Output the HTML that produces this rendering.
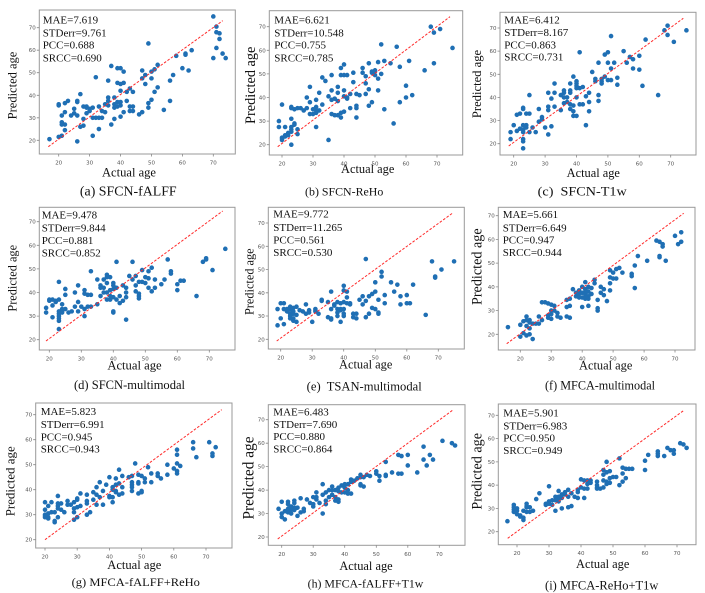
<!DOCTYPE html>
<html><head><meta charset="utf-8">
<style>
html,body{margin:0;padding:0;background:#fff;}
svg{display:block;}
.fr{fill:#fff;stroke:#999;stroke-width:1;}
.tk{stroke:#888;stroke-width:0.8;fill:none;}
.d{fill:none;stroke:#1f6fb4;stroke-width:4.6;stroke-linecap:round;}
.rl{stroke:#ff2a2a;stroke-width:1;stroke-dasharray:2.6 1.6;fill:none;}
.tl{font-family:"DejaVu Sans","Liberation Sans",sans-serif;font-size:5.5px;fill:#555;}
.st{font-family:"Liberation Serif",serif;font-size:11px;fill:#111;}
.al{font-family:"Liberation Serif",serif;font-size:12.5px;fill:#111;}
.cp{font-family:"Liberation Serif",serif;fill:#111;}
</style></head>
<body>
<svg width="705" height="593" viewBox="0 0 705 593" xmlns="http://www.w3.org/2000/svg">
<rect width="705" height="593" fill="#fff"/>

<!-- ===== (a) ===== -->
<rect class="fr" x="39.3" y="10" width="196" height="144"/>
<path class="tk" d="M58.7 154v2.5M89.6 154v2.5M120.5 154v2.5M151.5 154v2.5M182.4 154v2.5M213.3 154v2.5M39.3 140.3h-2.5M39.3 117.8h-2.5M39.3 95.3h-2.5M39.3 72.7h-2.5M39.3 50.2h-2.5M39.3 27.7h-2.5"/>
<text class="tl" y="164.7" text-anchor="middle"><tspan x="58.7">20</tspan><tspan x="89.6">30</tspan><tspan x="120.5">40</tspan><tspan x="151.5">50</tspan><tspan x="182.4">60</tspan><tspan x="213.3">70</tspan></text>
<text class="tl" text-anchor="end"><tspan x="35.8" y="142.3">20</tspan><tspan x="35.8" y="119.8">30</tspan><tspan x="35.8" y="97.3">40</tspan><tspan x="35.8" y="74.7">50</tspan><tspan x="35.8" y="52.2">60</tspan><tspan x="35.8" y="29.7">70</tspan></text>
<g transform="matrix(3.092 0 0 -2.252 -3.14 185.34)"><path class="d" vector-effect="non-scaling-stroke" d="M17 20.5h.01M20 36h.01M20 35.5h.01M20 21.5h.01M21 22h.01M21 31h.01M21 28h.01M21 27h.01M22 27h.01M22 24.5h.01M22 32.5h.01M22 36.5h.01M23 37.5h.01M24 31h.01M25 32h.01M25 34h.01M26 37.5h.01M26 37h.01M26 31h.01M26 19.5h.01M27 40.5h.01M27 26h.01M28 26.5h.01M28 29.5h.01M28 35h.01M29 35h.01M29 34.5h.01M29 32h.01M30 33h.01M30 34h.01M31 30h.01M31 34.5h.01M31 22h.01M32 48h.01M32 30h.01M33 30h.01M33 25h.01M33 35h.01M34 30h.01M34 33h.01M35 36h.01M35 32.5h.01M36 46.5h.01M36 39h.01M36 37.5h.01M36 35.5h.01M37 53h.01M37 27h.01M38 34.5h.01M38 39h.01M38 29.5h.01M38 36h.01M39 52h.01M39 45.5h.01M39 35h.01M39 37h.01M40 52h.01M40 45h.01M40 42h.01M40 30.5h.01M40 37h.01M40 35.5h.01M41 45.5h.01M41 50.5h.01M41 32.5h.01M42 41.5h.01M42 37.5h.01M43 43h.01M43 35h.01M43 33h.01M44 41.5h.01M44 33h.01M44 35h.01M46 31.5h.01M47 51h.01M47 47.5h.01M47 32.5h.01M48 49h.01M48 45h.01M49 63h.01M49 36.5h.01M49 34.5h.01M50 47.5h.01M50 50.5h.01M50 38h.01M51 51.5h.01M51 41.5h.01M52 53.5h.01M52 43.5h.01M54 33.5h.01M56 46.5h.01M56 37.5h.01M57 49h.01M58 57.5h.01M60 52h.01M61 58.5h.01M61 58h.01M62 51h.01M63 60h.01M70 75h.01M70 56.5h.01M71 70.5h.01M71 68h.01M71 61h.01M72 67.5h.01M72 65h.01M73 58.5h.01M74 56.5h.01"/></g>
<line class="rl" x1="48.3" y1="146.7" x2="222.7" y2="20.7"/>
<text class="st" x="42.7"><tspan x="42.7" y="23.7">MAE=7.619</tspan><tspan x="42.7" y="36.4">STDerr=9.761</tspan><tspan x="42.7" y="48.7">PCC=0.688</tspan><tspan x="42.7" y="61.4">SRCC=0.690</tspan></text>
<text class="al" x="129" y="176.5" text-anchor="middle" textLength="54" lengthAdjust="spacingAndGlyphs">Actual age</text>
<text class="al" transform="translate(12,85.5) rotate(-90)" y="4.3" text-anchor="middle" textLength="67.7" lengthAdjust="spacingAndGlyphs" style="font-size:12.6px">Predicted age</text>
<text class="cp" x="128.3" y="195.7" text-anchor="middle" style="font-size:13.5px" textLength="96.7" lengthAdjust="spacingAndGlyphs">(a) SFCN-fALFF</text>

<!-- ===== (b) ===== -->
<rect class="fr" x="269.3" y="10.7" width="193.4" height="144.3"/>
<path class="tk" d="M282 155v2.5M313 155v2.5M344 155v2.5M375 155v2.5M406 155v2.5M437 155v2.5M269.3 144.7h-2.5M269.3 121.1h-2.5M269.3 97.5h-2.5M269.3 73.9h-2.5M269.3 50.3h-2.5M269.3 26.7h-2.5"/>
<text class="tl" y="165.5" text-anchor="middle"><tspan x="282">20</tspan><tspan x="313">30</tspan><tspan x="344">40</tspan><tspan x="375">50</tspan><tspan x="406">60</tspan><tspan x="437">70</tspan></text>
<text class="tl" text-anchor="end"><tspan x="265.8" y="146.7">20</tspan><tspan x="265.8" y="123.1">30</tspan><tspan x="265.8" y="99.5">40</tspan><tspan x="265.8" y="75.9">50</tspan><tspan x="265.8" y="52.3">60</tspan><tspan x="265.8" y="28.7">70</tspan></text>
<g transform="matrix(3.1 0 0 -2.36 220 191.9)"><path class="d" vector-effect="non-scaling-stroke" d="M19 30h.01M19 27.5h.01M20 37h.01M20 22.5h.01M20 22h.01M20 23h.01M21 27.5h.01M21 24h.01M21 23.5h.01M22 25h.01M22 24h.01M23 36h.01M23 35.5h.01M23 31h.01M23 27.5h.01M23 26.5h.01M23 25.5h.01M23 20h.01M24 35h.01M24 29h.01M24 28.5h.01M25 26.5h.01M25 24.5h.01M25 35.5h.01M26 35.5h.01M27 34.5h.01M28 40h.01M28 35.5h.01M29 44.5h.01M29 38h.01M29 33h.01M30 35h.01M30 33h.01M31 39h.01M31 36h.01M31 34.5h.01M31 33.5h.01M31 27.5h.01M32 42h.01M32 34.5h.01M33 48.5h.01M33 37h.01M34 47h.01M35 22h.01M35 40.5h.01M36 49.5h.01M36 43h.01M36 39h.01M36 33h.01M37 39.5h.01M37 32.5h.01M38 44.5h.01M38 42h.01M38 38.5h.01M38 32.5h.01M39 52.5h.01M39 49.5h.01M39 33.5h.01M39 31.5h.01M40 54h.01M40 49.5h.01M40 43h.01M40 40.5h.01M40 34h.01M41 49.5h.01M41 40h.01M41 39.5h.01M42 41.5h.01M42 35.5h.01M43 50.5h.01M43 46.5h.01M44 41.5h.01M44 36.5h.01M44 35.5h.01M44 31.5h.01M45 41h.01M46 52.5h.01M46 50.5h.01M47 49h.01M47 41.5h.01M47 46h.01M48 54.5h.01M48 43.5h.01M48 36.5h.01M49 51h.01M49 38h.01M49 50.5h.01M50 51.5h.01M50 49.5h.01M50 51h.01M51 55h.01M51 48h.01M51 43h.01M52 62.5h.01M52 50h.01M53 55.5h.01M53 35h.01M55 54.5h.01M56 29h.01M57 61.5h.01M58 53h.01M58 38h.01M60 45h.01M60 40h.01M61 55.5h.01M62 41h.01M66 51.5h.01M68 70h.01M69 67.5h.01M69 54.5h.01M71 69h.01M75 61h.01"/></g>
<line class="rl" x1="277.7" y1="146.7" x2="450" y2="16.7"/>
<text class="st"><tspan x="274.3" y="23.7">MAE=6.621</tspan><tspan x="274.3" y="36.4">STDerr=10.548</tspan><tspan x="274.3" y="48.7">PCC=0.755</tspan><tspan x="274.3" y="61.4">SRCC=0.785</tspan></text>
<text class="al" x="367.7" y="172.8" text-anchor="middle" textLength="53.3" lengthAdjust="spacingAndGlyphs">Actual age</text>
<text class="al" transform="translate(250,85.3) rotate(-90)" y="4.8" text-anchor="middle" textLength="77.3" lengthAdjust="spacingAndGlyphs" style="font-size:14.4px">Predicted age</text>
<text class="cp" x="344.2" y="195.5" text-anchor="middle" style="font-size:12px" textLength="78.3" lengthAdjust="spacingAndGlyphs">(b) SFCN-ReHo</text>

<!-- ===== (c) ===== -->
<rect class="fr" x="500" y="12.3" width="196" height="142.7"/>
<path class="tk" d="M513.7 155v2.5M545.1 155v2.5M576.5 155v2.5M607.9 155v2.5M639.3 155v2.5M670.7 155v2.5M500 143.7h-2.5M500 120.6h-2.5M500 97.4h-2.5M500 74.3h-2.5M500 51.1h-2.5M500 28h-2.5"/>
<text class="tl" y="165.5" text-anchor="middle"><tspan x="513.7">20</tspan><tspan x="545.1">30</tspan><tspan x="576.5">40</tspan><tspan x="607.9">50</tspan><tspan x="639.3">60</tspan><tspan x="670.7">70</tspan></text>
<text class="tl" text-anchor="end"><tspan x="496.5" y="145.7">20</tspan><tspan x="496.5" y="122.6">30</tspan><tspan x="496.5" y="99.4">40</tspan><tspan x="496.5" y="76.3">50</tspan><tspan x="496.5" y="53.1">60</tspan><tspan x="496.5" y="30">70</tspan></text>
<g transform="matrix(3.14 0 0 -2.314 450.9 189.98)"><path class="d" vector-effect="non-scaling-stroke" d="M19 25h.01M19 22h.01M20 28h.01M21 32.5h.01M21 25.5h.01M22 33h.01M22 26.5h.01M23 35.5h.01M23 35h.01M23 28h.01M23 26h.01M23 25h.01M23 22h.01M23 21h.01M23 18h.01M24 33h.01M24 28h.01M24 27h.01M25 41h.01M25 33h.01M25 25h.01M26 27h.01M27 25h.01M28 35h.01M28 29.5h.01M29 31.5h.01M29 30.5h.01M30 27h.01M31 42h.01M31 36h.01M31 34.5h.01M31 24h.01M32 39.5h.01M32 27.5h.01M33 46h.01M33 42h.01M33 36h.01M35 41h.01M35 34.5h.01M36 43h.01M36 42h.01M36 40h.01M36 37.5h.01M37 40h.01M37 38h.01M38 46h.01M38 43h.01M38 42h.01M38 37h.01M38 35h.01M39 49h.01M39 36.5h.01M39 34h.01M39 32h.01M40 47h.01M40 46h.01M40 45h.01M40 44h.01M40 40h.01M40 32h.01M41 59.5h.01M41 44h.01M41 37h.01M42 44.5h.01M42 37h.01M43 40.5h.01M43 28h.01M44 42h.01M44 38h.01M44 34h.01M45 51h.01M46 48h.01M46 47h.01M47 55h.01M47 41h.01M47 38.5h.01M48 48h.01M48 47h.01M48 46h.01M49 49h.01M49 58.5h.01M50 59.5h.01M50 55h.01M50 47.5h.01M51 66.5h.01M51 52.5h.01M51 47.5h.01M52 55h.01M53 48.5h.01M53 45.5h.01M55 60h.01M56 55h.01M57 57.5h.01M58 56.5h.01M58 52.5h.01M60 58h.01M60 52h.01M61 45h.01M62 65h.01M66 41h.01M68 69h.01M69 71h.01M69 67h.01M71 64h.01M75 69h.01"/></g>
<line class="rl" x1="508.7" y1="146" x2="683.3" y2="18.3"/>
<text class="st"><tspan x="504.3" y="23.7">MAE=6.412</tspan><tspan x="504.3" y="36">STDerr=8.167</tspan><tspan x="504.3" y="48.4">PCC=0.863</tspan><tspan x="504.3" y="60.7">SRCC=0.731</tspan></text>
<text class="al" x="593.3" y="176.8" text-anchor="middle" textLength="53.3" lengthAdjust="spacingAndGlyphs">Actual age</text>
<text class="al" transform="translate(476.7,84) rotate(-90)" y="4.3" text-anchor="middle" textLength="68.3" lengthAdjust="spacingAndGlyphs" style="font-size:12.8px">Predicted age</text>
<text class="cp" x="582.2" y="195.5" text-anchor="middle" style="font-size:12.5px" textLength="89" lengthAdjust="spacingAndGlyphs">(c)&#160; SFCN-T1w</text>

<!-- ===== (d) ===== -->
<rect class="fr" x="39.3" y="207.3" width="195.7" height="142.7"/>
<path class="tk" d="M49.3 350v2.5M81.3 350v2.5M113.3 350v2.5M145.3 350v2.5M177.3 350v2.5M209.3 350v2.5M39.3 339.7h-2.5M39.3 316.1h-2.5M39.3 292.5h-2.5M39.3 268.9h-2.5M39.3 245.3h-2.5M39.3 221.7h-2.5"/>
<text class="tl" y="360.5" text-anchor="middle"><tspan x="49.3">20</tspan><tspan x="81.3">30</tspan><tspan x="113.3">40</tspan><tspan x="145.3">50</tspan><tspan x="177.3">60</tspan><tspan x="209.3">70</tspan></text>
<text class="tl" text-anchor="end"><tspan x="35.8" y="341.7">20</tspan><tspan x="35.8" y="318.1">30</tspan><tspan x="35.8" y="294.5">40</tspan><tspan x="35.8" y="270.9">50</tspan><tspan x="35.8" y="247.3">60</tspan><tspan x="35.8" y="223.7">70</tspan></text>
<g transform="matrix(3.2 0 0 -2.36 -14.7 386.9)"><path class="d" vector-effect="non-scaling-stroke" d="M19 33.5h.01M19 31.5h.01M20 37h.01M20 36.5h.01M21 34.5h.01M21 29.5h.01M21 37h.01M22 36.5h.01M22 36h.01M23 44.5h.01M23 37h.01M23 32h.01M23 31h.01M23 30h.01M23 29h.01M23 28h.01M23 24.5h.01M24 35h.01M24 33h.01M24 32h.01M24 31.5h.01M25 41.5h.01M25 39h.01M25 33h.01M26 31.5h.01M27 32h.01M28 40h.01M28 34h.01M29 43h.01M29 36h.01M29 32h.01M30 34h.01M31 41h.01M31 39.5h.01M31 33h.01M31 30h.01M32 39h.01M32 34h.01M33 49h.01M33 39h.01M33 34h.01M35 45.5h.01M35 35h.01M36 43h.01M36 42h.01M36 38.5h.01M37 45.5h.01M37 42h.01M37 40h.01M38 47.5h.01M38 46.5h.01M38 44h.01M38 40h.01M38 37h.01M39 46.5h.01M39 41h.01M39 38.5h.01M39 37h.01M40 44h.01M40 43h.01M40 41.5h.01M40 38h.01M40 32h.01M40 31.5h.01M41 53h.01M41 42h.01M41 37h.01M42 38.5h.01M42 35.5h.01M43 43h.01M43 36.5h.01M44 42h.01M44 40h.01M44 38h.01M44 28.5h.01M45 47h.01M46 53h.01M46 45.5h.01M47 47h.01M47 43h.01M47 40.5h.01M48 39.5h.01M48 38.5h.01M48 37.5h.01M48 44.5h.01M49 49.5h.01M49 44.5h.01M50 46.5h.01M50 44h.01M51 49h.01M51 46h.01M51 42h.01M52 50.5h.01M52 40.5h.01M53 45.5h.01M53 42h.01M55 43.5h.01M56 45.5h.01M57 54h.01M58 49h.01M58 48h.01M60 43.5h.01M60 41h.01M61 45h.01M62 45h.01M66 38.5h.01M68 53h.01M69 54.5h.01M69 54h.01M71 49.5h.01M75 58.5h.01"/></g>
<line class="rl" x1="46" y1="341" x2="222.7" y2="211"/>
<text class="st"><tspan x="41.7" y="218.7">MAE=9.478</tspan><tspan x="41.7" y="231.4">STDerr=9.844</tspan><tspan x="41.7" y="244">PCC=0.881</tspan><tspan x="41.7" y="256.4">SRCC=0.852</tspan></text>
<text class="al" x="134.5" y="369.5" text-anchor="middle" textLength="54.3" lengthAdjust="spacingAndGlyphs">Actual age</text>
<text class="al" transform="translate(12.3,278.3) rotate(-90)" y="4.3" text-anchor="middle" textLength="66.7" lengthAdjust="spacingAndGlyphs" style="font-size:12.5px">Predicted age</text>
<text class="cp" x="129.5" y="389" text-anchor="middle" style="font-size:12.3px" textLength="111" lengthAdjust="spacingAndGlyphs">(d) SFCN-multimodal</text>

<!-- ===== (e) ===== -->
<rect class="fr" x="268.3" y="207.3" width="196" height="141.7"/>
<path class="tk" d="M280.7 349v2.5M312.2 349v2.5M343.7 349v2.5M375.3 349v2.5M406.8 349v2.5M438.3 349v2.5M268.3 339.3h-2.5M268.3 316h-2.5M268.3 292.8h-2.5M268.3 269.5h-2.5M268.3 246.3h-2.5M268.3 223h-2.5"/>
<text class="tl" y="359.5" text-anchor="middle"><tspan x="280.7">20</tspan><tspan x="312.2">30</tspan><tspan x="343.7">40</tspan><tspan x="375.3">50</tspan><tspan x="406.8">60</tspan><tspan x="438.3">70</tspan></text>
<text class="tl" text-anchor="end"><tspan x="264.8" y="341.3">20</tspan><tspan x="264.8" y="318">30</tspan><tspan x="264.8" y="294.8">40</tspan><tspan x="264.8" y="271.5">50</tspan><tspan x="264.8" y="248.3">60</tspan><tspan x="264.8" y="225">70</tspan></text>
<g transform="matrix(3.152 0 0 -2.326 217.66 385.82)"><path class="d" vector-effect="non-scaling-stroke" d="M19 33h.01M19 26h.01M20 35.5h.01M20 29h.01M21 35.5h.01M21 33h.01M21 26.5h.01M22 33h.01M22 32h.01M23 34h.01M23 33h.01M23 31h.01M23 30h.01M23 29h.01M24 33.5h.01M24 32h.01M24 31h.01M24 29h.01M24 28h.01M25 34h.01M25 30.5h.01M25 27.5h.01M26 32.5h.01M27 32h.01M28 35h.01M28 31h.01M29 32.5h.01M29 31.5h.01M30 27.5h.01M31 33h.01M31 32.5h.01M31 32h.01M32 31h.01M33 37h.01M33 36.5h.01M35 36h.01M35 29.5h.01M36 40.5h.01M36 33h.01M36 29h.01M36 28.5h.01M37 35h.01M37 34.5h.01M38 36h.01M38 33h.01M38 31.5h.01M38 30h.01M39 35.5h.01M39 33h.01M39 32.5h.01M39 27.5h.01M40 43h.01M40 41h.01M40 36h.01M40 33h.01M40 31h.01M40 30h.01M41 40.5h.01M41 38h.01M41 35.5h.01M42 35.5h.01M42 35h.01M43 31h.01M43 29.5h.01M44 31h.01M44 29h.01M45 37h.01M46 38.5h.01M46 35h.01M47 54.5h.01M47 36.5h.01M47 29.5h.01M48 38.5h.01M48 31h.01M49 39.5h.01M49 33.5h.01M50 44.5h.01M50 40.5h.01M50 33h.01M51 37h.01M51 31.5h.01M51 31h.01M52 49h.01M52 47h.01M53 39h.01M53 35.5h.01M55 44.5h.01M56 40.5h.01M57 43.5h.01M58 38.5h.01M58 35h.01M60 39h.01M60 35.5h.01M61 35.5h.01M62 43.5h.01M66 30.5h.01M68 53.5h.01M69 47h.01M69 46.5h.01M71 50h.01M75 53.5h.01"/></g>
<line class="rl" x1="276.7" y1="341" x2="452.3" y2="213.3"/>
<text class="st"><tspan x="273.3" y="217.7">MAE=9.772</tspan><tspan x="273.3" y="231">STDerr=11.265</tspan><tspan x="273.3" y="243.7">PCC=0.561</tspan><tspan x="273.3" y="256">SRCC=0.530</tspan></text>
<text class="al" x="365.7" y="368.5" text-anchor="middle" textLength="53.3" lengthAdjust="spacingAndGlyphs">Actual age</text>
<text class="al" transform="translate(249,281.7) rotate(-90)" y="4.3" text-anchor="middle" textLength="66.7" lengthAdjust="spacingAndGlyphs" style="font-size:12.5px">Predicted age</text>
<text class="cp" x="364.2" y="390.7" text-anchor="middle" style="font-size:12.3px" textLength="115" lengthAdjust="spacingAndGlyphs">(e)&#160; TSAN-multimodal</text>

<!-- ===== (f) ===== -->
<rect class="fr" x="498.3" y="207.3" width="196.7" height="142.7"/>
<path class="tk" d="M520.3 350v2.5M551.2 350v2.5M582.2 350v2.5M613.1 350v2.5M644.1 350v2.5M675 350v2.5M498.3 334.3h-2.5M498.3 310.6h-2.5M498.3 286.9h-2.5M498.3 263.1h-2.5M498.3 239.4h-2.5M498.3 215.7h-2.5"/>
<text class="tl" y="360.5" text-anchor="middle"><tspan x="520.3">20</tspan><tspan x="551.2">30</tspan><tspan x="582.2">40</tspan><tspan x="613.1">50</tspan><tspan x="644.1">60</tspan><tspan x="675">70</tspan></text>
<text class="tl" text-anchor="end"><tspan x="494.8" y="336.3">20</tspan><tspan x="494.8" y="312.6">30</tspan><tspan x="494.8" y="288.9">40</tspan><tspan x="494.8" y="265.1">50</tspan><tspan x="494.8" y="241.4">60</tspan><tspan x="494.8" y="217.7">70</tspan></text>
<g transform="matrix(3.094 0 0 -2.372 458.42 381.74)"><path class="d" vector-effect="non-scaling-stroke" d="M16 23h.01M20 24h.01M20 19h.01M21 25.5h.01M21 20.5h.01M22 27.5h.01M22 26h.01M22 23.5h.01M22 19.5h.01M23 26h.01M23 25h.01M23 22.5h.01M23 20h.01M24 24.5h.01M24 18h.01M25 24.5h.01M26 27.5h.01M26 24.5h.01M27 33.5h.01M27 26h.01M28 33.5h.01M29 33h.01M29 28h.01M29 27h.01M30 32.5h.01M30 30h.01M30 28.5h.01M30 26.5h.01M31 32h.01M31 30h.01M32 29h.01M32 27.5h.01M33 27h.01M35 34.5h.01M35 31.5h.01M35 27.5h.01M36 35h.01M36 32h.01M36 27h.01M37 39h.01M38 37.5h.01M38 36h.01M39 38.5h.01M39 37h.01M39 35.5h.01M40 40h.01M40 37.5h.01M40 35.5h.01M40 31.5h.01M41 42h.01M41 39h.01M41 38h.01M41 37h.01M41 36h.01M41 35h.01M42 40h.01M42 38h.01M42 36h.01M42 35h.01M42 32h.01M43 39.5h.01M43 37h.01M44 43h.01M44 41.5h.01M45 34.5h.01M45 31h.01M45 30h.01M46 40h.01M46 37.5h.01M47 39h.01M47 36.5h.01M48 34h.01M49 47h.01M49 44h.01M49 41.5h.01M49 38.5h.01M50 46h.01M50 43.5h.01M51 47.5h.01M51 43.5h.01M52 48h.01M53 46h.01M56 45.5h.01M56 44.5h.01M57 49h.01M57 39.5h.01M58 53h.01M61 51h.01M64 59.5h.01M65 59h.01M65 53h.01M65 52.5h.01M66 58h.01M66 57h.01M67 51h.01M70 61.5h.01M71 58h.01M72 63h.01M72 59h.01"/></g>
<line class="rl" x1="506.7" y1="343.7" x2="683.7" y2="213.3"/>
<text class="st"><tspan x="502.7" y="218">MAE=5.661</tspan><tspan x="502.7" y="231.4">STDerr=6.649</tspan><tspan x="502.7" y="243.4">PCC=0.947</tspan><tspan x="502.7" y="256">SRCC=0.944</tspan></text>
<text class="al" x="605.7" y="369.5" text-anchor="middle" textLength="53.3" lengthAdjust="spacingAndGlyphs">Actual age</text>
<text class="al" transform="translate(476.7,266.7) rotate(-90)" y="4.8" text-anchor="middle" textLength="76.7" lengthAdjust="spacingAndGlyphs" style="font-size:14.3px">Predicted age</text>
<text class="cp" x="600" y="389.7" text-anchor="middle" style="font-size:12.3px" textLength="110" lengthAdjust="spacingAndGlyphs">(f) MFCA-multimodal</text>

<!-- ===== (g) ===== -->
<rect class="fr" x="35.7" y="403" width="196.3" height="145"/>
<path class="tk" d="M45 548v2.5M77.2 548v2.5M109.4 548v2.5M141.6 548v2.5M173.8 548v2.5M206 548v2.5M35.7 539.7h-2.5M35.7 514.7h-2.5M35.7 489.7h-2.5M35.7 464.7h-2.5M35.7 439.7h-2.5M35.7 414.7h-2.5"/>
<text class="tl" y="558.5" text-anchor="middle"><tspan x="45">20</tspan><tspan x="77.2">30</tspan><tspan x="109.4">40</tspan><tspan x="141.6">50</tspan><tspan x="173.8">60</tspan><tspan x="206">70</tspan></text>
<text class="tl" text-anchor="end"><tspan x="32.2" y="541.7">20</tspan><tspan x="32.2" y="516.7">30</tspan><tspan x="32.2" y="491.7">40</tspan><tspan x="32.2" y="466.7">50</tspan><tspan x="32.2" y="441.7">60</tspan><tspan x="32.2" y="416.7">70</tspan></text>
<g transform="matrix(3.22 0 0 -2.5 -19.4 589.7)"><path class="d" vector-effect="non-scaling-stroke" d="M20 35h.01M20 32h.01M20 30h.01M20 29.5h.01M20 29h.01M21 30.5h.01M21 29h.01M21 28.5h.01M21 33.5h.01M22 35h.01M22 31h.01M23 31h.01M23 27.5h.01M23 27h.01M24 37.5h.01M24 34.5h.01M24 33.5h.01M24 32.5h.01M24 29h.01M25 34.5h.01M25 32h.01M26 31h.01M27 35.5h.01M27 34h.01M28 34h.01M29 35h.01M29 32.5h.01M29 31h.01M29 28h.01M30 36.5h.01M30 36h.01M30 33h.01M30 29h.01M31 38.5h.01M31 33.5h.01M33 38h.01M33 35.5h.01M33 34.5h.01M33 30h.01M34 31h.01M35 39h.01M35 36h.01M36 41h.01M36 34h.01M36 38h.01M37 43h.01M37 37h.01M38 39.5h.01M38 34h.01M39 42h.01M40 45h.01M40 37.5h.01M40 37h.01M41 41h.01M41 40h.01M41 37h.01M41 35h.01M42 44.5h.01M42 42h.01M42 39.5h.01M42 39h.01M43 48h.01M43 42.5h.01M43 38h.01M44 45.5h.01M44 41h.01M44 38.5h.01M46 45h.01M47 45.5h.01M47 43h.01M47 42h.01M47 41h.01M47 39.5h.01M48 50.5h.01M49 46h.01M49 43h.01M49 42.5h.01M49 38.5h.01M50 45.5h.01M50 39.5h.01M50 39h.01M51 44.5h.01M51 43h.01M52 49h.01M53 46.5h.01M53 43h.01M55 46.5h.01M55 45.5h.01M56 44.5h.01M58 50h.01M58 46h.01M60 48.5h.01M61 56h.01M61 54h.01M61 50.5h.01M61 47.5h.01M61 46.5h.01M62 49.5h.01M66 59h.01M66 56.5h.01M67 53h.01M71 59h.01M72 54.5h.01M72 53.5h.01M73 57h.01"/></g>
<line class="rl" x1="45" y1="539.7" x2="221.7" y2="409.7"/>
<text class="st"><tspan x="40.7" y="415">MAE=5.823</tspan><tspan x="40.7" y="428">STDerr=6.991</tspan><tspan x="40.7" y="440.4">PCC=0.945</tspan><tspan x="40.7" y="452.7">SRCC=0.943</tspan></text>
<text class="al" x="134.3" y="568.8" text-anchor="middle" textLength="54" lengthAdjust="spacingAndGlyphs">Actual age</text>
<text class="al" transform="translate(10,481.3) rotate(-90)" y="4.5" text-anchor="middle" textLength="70" lengthAdjust="spacingAndGlyphs" style="font-size:13.1px">Predicted age</text>
<text class="cp" x="135.8" y="586" text-anchor="middle" style="font-size:11.8px" textLength="128.3" lengthAdjust="spacingAndGlyphs">(g) MFCA-fALFF+ReHo</text>

<!-- ===== (h) ===== -->
<rect class="fr" x="268.3" y="404.7" width="196.7" height="140.6"/>
<path class="tk" d="M281.7 545.3v2.5M313.2 545.3v2.5M344.7 545.3v2.5M376.3 545.3v2.5M407.8 545.3v2.5M439.3 545.3v2.5M268.3 537h-2.5M268.3 513.5h-2.5M268.3 490.1h-2.5M268.3 466.6h-2.5M268.3 443.2h-2.5M268.3 419.7h-2.5"/>
<text class="tl" y="555.8" text-anchor="middle"><tspan x="281.7">20</tspan><tspan x="313.2">30</tspan><tspan x="344.7">40</tspan><tspan x="376.3">50</tspan><tspan x="407.8">60</tspan><tspan x="439.3">70</tspan></text>
<text class="tl" text-anchor="end"><tspan x="264.8" y="539">20</tspan><tspan x="264.8" y="515.5">30</tspan><tspan x="264.8" y="492.1">40</tspan><tspan x="264.8" y="468.6">50</tspan><tspan x="264.8" y="445.2">60</tspan><tspan x="264.8" y="421.7">70</tspan></text>
<g transform="matrix(3.152 0 0 -2.346 218.66 583.92)"><path class="d" vector-effect="non-scaling-stroke" d="M19 32h.01M20 35h.01M20 30h.01M20 28.5h.01M21 31h.01M21 27.5h.01M22 35h.01M22 34h.01M22 32h.01M22 30.5h.01M23 33h.01M23 31.5h.01M23 30h.01M24 35.5h.01M24 34.5h.01M24 32.5h.01M24 31.5h.01M25 32.5h.01M25 29h.01M26 36.5h.01M26 30.5h.01M27 32h.01M27 31h.01M28 36h.01M29 34.5h.01M30 37h.01M30 34h.01M30 33h.01M31 39h.01M31 37h.01M31 36h.01M32 34.5h.01M33 42.5h.01M33 38h.01M33 30h.01M34 39h.01M34 35.5h.01M34 34h.01M35 40h.01M35 37h.01M36 41.5h.01M36 40h.01M36 38h.01M37 40h.01M37 37h.01M37 35.5h.01M38 41h.01M38 39.5h.01M38 36h.01M38 35h.01M39 42h.01M39 39h.01M40 42.5h.01M40 41h.01M40 39h.01M41 42.5h.01M41 40h.01M41 38.5h.01M42 44.5h.01M42 43.5h.01M42 38.5h.01M43 44h.01M44 45h.01M45 46.5h.01M45 45.5h.01M45 42.5h.01M45 42h.01M46 41.5h.01M46 45.5h.01M47 46.5h.01M48 46h.01M50 48h.01M50 47h.01M51 46h.01M51 44h.01M53 52h.01M53 46.5h.01M53 46h.01M55 47.5h.01M57 55h.01M57 47h.01M58 54.5h.01M58 47h.01M60 55h.01M60 50.5h.01M63 47.5h.01M65 58.5h.01M65 53h.01M66 50.5h.01M67 55h.01M68 53h.01M71 61h.01M74 60h.01M75 59h.01"/></g>
<line class="rl" x1="277.7" y1="539" x2="453.3" y2="409.7"/>
<text class="st"><tspan x="273.3" y="415.7">MAE=6.483</tspan><tspan x="273.3" y="428">STDerr=7.690</tspan><tspan x="273.3" y="440">PCC=0.880</tspan><tspan x="273.3" y="452.7">SRCC=0.864</tspan></text>
<text class="al" x="366" y="569.8" text-anchor="middle" textLength="53.3" lengthAdjust="spacingAndGlyphs">Actual age</text>
<text class="al" transform="translate(248.3,478) rotate(-90)" y="5.2" text-anchor="middle" textLength="83" lengthAdjust="spacingAndGlyphs" style="font-size:15.5px">Predicted age</text>
<text class="cp" x="365.5" y="587.7" text-anchor="middle" style="font-size:12px" textLength="115.7" lengthAdjust="spacingAndGlyphs">(h) MFCA-fALFF+T1w</text>

<!-- ===== (i) ===== -->
<rect class="fr" x="498.3" y="404" width="197.7" height="140.7"/>
<path class="tk" d="M517 544.7v2.5M549 544.7v2.5M581 544.7v2.5M613 544.7v2.5M645 544.7v2.5M677 544.7v2.5M498.3 531.7h-2.5M498.3 508.4h-2.5M498.3 485.1h-2.5M498.3 461.9h-2.5M498.3 438.6h-2.5M498.3 415.3h-2.5"/>
<text class="tl" y="555.2" text-anchor="middle"><tspan x="517">20</tspan><tspan x="549">30</tspan><tspan x="581">40</tspan><tspan x="613">50</tspan><tspan x="645">60</tspan><tspan x="677">70</tspan></text>
<text class="tl" text-anchor="end"><tspan x="494.8" y="533.7">20</tspan><tspan x="494.8" y="510.4">30</tspan><tspan x="494.8" y="487.1">40</tspan><tspan x="494.8" y="463.9">50</tspan><tspan x="494.8" y="440.6">60</tspan><tspan x="494.8" y="417.3">70</tspan></text>
<g transform="matrix(3.2 0 0 -2.328 453 578.26)"><path class="d" vector-effect="non-scaling-stroke" d="M17 24.5h.01M19 31.5h.01M19 30.5h.01M19 29.5h.01M19 28.5h.01M20 30h.01M20 29h.01M20 27.5h.01M21 27h.01M21 26.5h.01M22 29h.01M22 26h.01M22 25h.01M23 32h.01M23 31h.01M23 30.5h.01M23 28.5h.01M24 30.5h.01M24 28.5h.01M25 29h.01M26 34h.01M27 36.5h.01M29 32h.01M29 31.5h.01M30 39.5h.01M30 33h.01M30 32h.01M31 33.5h.01M31 31.5h.01M32 35h.01M32 33.5h.01M32 29h.01M33 37.5h.01M33 35h.01M33 34h.01M33 33h.01M34 36h.01M34 34.5h.01M34 30h.01M35 37h.01M35 36h.01M36 38h.01M36 35h.01M36 30.5h.01M37 31h.01M37 36.5h.01M38 35h.01M39 38h.01M39 37h.01M39 34.5h.01M40 42.5h.01M40 39h.01M41 42h.01M41 38.5h.01M41 34.5h.01M42 42h.01M42 40.5h.01M42 38.5h.01M43 42h.01M43 41h.01M45 41.5h.01M45 40h.01M45 39h.01M45 38.5h.01M46 38.5h.01M47 46.5h.01M47 44.5h.01M47 42h.01M47 39h.01M48 50h.01M48 45.5h.01M48 41.5h.01M48 40.5h.01M49 46h.01M49 43h.01M49 41h.01M50 43.5h.01M51 43.5h.01M52 51.5h.01M52 40h.01M53 47.5h.01M53 45h.01M53 41.5h.01M54 47h.01M54 43h.01M55 47h.01M56 47h.01M60 50.5h.01M60 46.5h.01M61 53h.01M64 54.5h.01M64 53.5h.01M64 52.5h.01M66 52.5h.01M67 56h.01M68 55h.01M69 55h.01M69 53.5h.01M71 58h.01M72 57.5h.01M73 56h.01"/></g>
<line class="rl" x1="507.7" y1="538.3" x2="684" y2="410.3"/>
<text class="st"><tspan x="503.3" y="416.7">MAE=5.901</tspan><tspan x="503.3" y="429.4">STDerr=6.983</tspan><tspan x="503.3" y="441.7">PCC=0.950</tspan><tspan x="503.3" y="454">SRCC=0.949</tspan></text>
<text class="al" x="602.7" y="568.2" text-anchor="middle" textLength="53.3" lengthAdjust="spacingAndGlyphs">Actual age</text>
<text class="al" transform="translate(476.7,471.3) rotate(-90)" y="4.8" text-anchor="middle" textLength="76.7" lengthAdjust="spacingAndGlyphs" style="font-size:14.3px">Predicted age</text>
<text class="cp" x="601.7" y="589.3" text-anchor="middle" style="font-size:12.2px" textLength="113.3" lengthAdjust="spacingAndGlyphs">(i) MFCA-ReHo+T1w</text>
</svg>
</body></html>
